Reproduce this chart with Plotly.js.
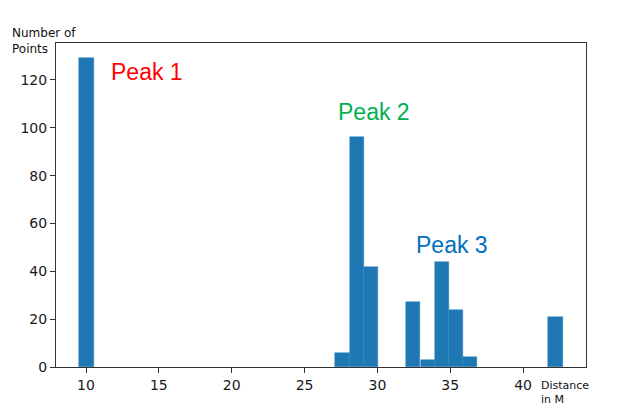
<!DOCTYPE html>
<html>
<head>
<meta charset="utf-8">
<script src="https://cdn.plot.ly/plotly-3.0.1.min.js"></script>
<style>
  html, body { margin: 0; padding: 0; background: #fff; }
  #chart { width: 624px; height: 406px; }
</style>
</head>
<body>
<div id="chart"></div>
<script>
// histogram bins (only non-empty ones)
const binCenters = [10.03, 27.60, 28.58, 29.55, 32.47, 33.45, 34.43, 35.40, 36.38, 42.23];
const binCounts  = [129, 6, 96, 42, 27, 3, 44, 24, 4, 21];
const binWidth   = 0.9756;

const xTicks = [10, 15, 20, 25, 30, 35, 40];
const yTicks = [0, 20, 40, 60, 80, 100, 120];

const peakLabels = ['Peak 1', 'Peak 2', 'Peak 3'];
const peakX      = [14.2, 29.8, 35.1];
const peakY      = [123.3, 106.6, 51.0];
const peakColors = ['#ff0000', '#00b050', '#0070c0'];

const AXIS_COLOR = '#333333';
const TICK_FONT = { family: 'DejaVu Sans, sans-serif', size: 14, color: '#1a1a1a' };

const traces = [{
    type: 'bar',
    x: binCenters,
    y: binCounts,
    width: binCenters.map(() => binWidth),
    marker: { color: '#1f77b4', line: { color: '#2f80bd', width: 0.5 } },
    hoverinfo: 'x+y',
}];

const annotations = peakLabels.map((t, i) => ({
    text: t, x: peakX[i], y: peakY[i], xref: 'x', yref: 'y',
    showarrow: false,
    font: { family: 'Liberation Sans, Arial, sans-serif', size: 23, color: peakColors[i] },
}));

// axis titles sit outside the plot like in the original
annotations.push({
    text: 'Number of<br>Points', xref: 'paper', yref: 'paper',
    x: -0.087, y: 0.954, xanchor: 'left', yanchor: 'bottom', align: 'left',
    showarrow: false,
    font: { family: 'DejaVu Sans, sans-serif', size: 12, color: '#111' },
});
annotations.push({
    text: 'Distance<br>in M', xref: 'paper', yref: 'paper',
    x: 0.911, y: -0.032, xanchor: 'left', yanchor: 'top', align: 'left',
    showarrow: false,
    font: { family: 'DejaVu Sans, sans-serif', size: 11, color: '#111' },
});

Plotly.newPlot('chart', traces, {
    width: 624, height: 406,
    paper_bgcolor: '#ffffff', plot_bgcolor: '#ffffff',
    margin: { l: 56, r: 38, t: 43, b: 39 },
    bargap: 0,
    showlegend: false,
    xaxis: {
        range: [7.94, 44.32], tickvals: xTicks, ticks: 'outside', ticklen: 5,
        tickcolor: AXIS_COLOR, showline: true, linecolor: AXIS_COLOR, linewidth: 1,
        mirror: true, showgrid: false, zeroline: false, tickfont: TICK_FONT,
    },
    yaxis: {
        range: [0, 135.45], tickvals: yTicks, ticks: 'outside', ticklen: 5,
        tickcolor: AXIS_COLOR, showline: true, linecolor: AXIS_COLOR, linewidth: 1,
        mirror: true, showgrid: false, zeroline: false, tickfont: TICK_FONT,
    },
    annotations: annotations,
}, { displayModeBar: false });
</script>
</body>
</html>
